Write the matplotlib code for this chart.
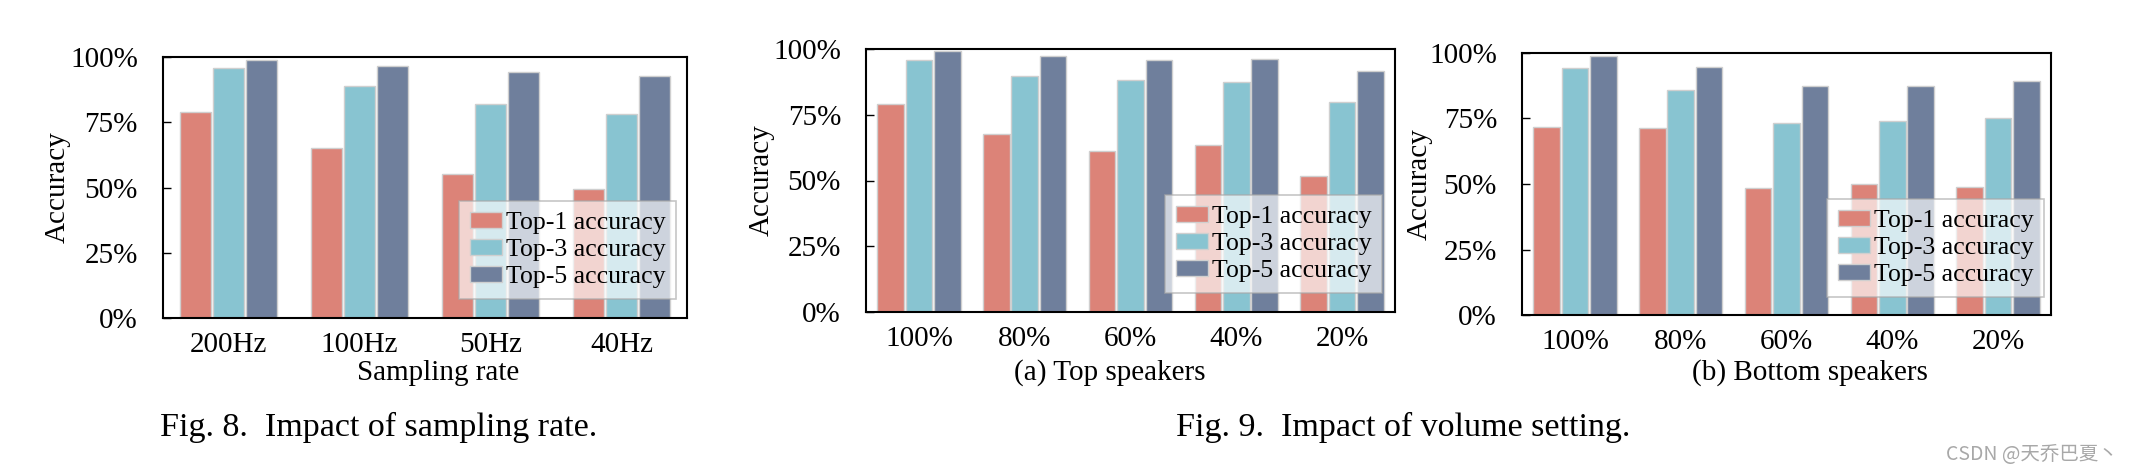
import numpy as np
import matplotlib
matplotlib.use("Agg")
import matplotlib.pyplot as plt

plt.rcParams['font.family'] = ['Liberation Serif', 'Noto Sans CJK SC', 'DejaVu Sans']

# ---------------- data ----------------
series_names = ["Top-1 accuracy", "Top-3 accuracy", "Top-5 accuracy"]
colors = ["#DC8378", "#88C4D1", "#6F7F9C"]

fig8_categories = ["200Hz", "100Hz", "50Hz", "40Hz"]
fig8_top1 = [0.790, 0.650, 0.550, 0.495]
fig8_top3 = [0.956, 0.888, 0.821, 0.782]
fig8_top5 = [0.990, 0.964, 0.944, 0.926]

fig9_categories = ["100%", "80%", "60%", "40%", "20%"]
fig9a_top1 = [0.791, 0.675, 0.613, 0.635, 0.518]
fig9a_top3 = [0.957, 0.897, 0.882, 0.874, 0.800]
fig9a_top5 = [0.992, 0.975, 0.959, 0.961, 0.916]

fig9b_top1 = [0.719, 0.714, 0.485, 0.500, 0.490]
fig9b_top3 = [0.944, 0.860, 0.732, 0.740, 0.751]
fig9b_top5 = [0.990, 0.948, 0.875, 0.875, 0.892]

ytick_values = [0, 0.25, 0.5, 0.75, 1.0]
ytick_labels = ["0%", "25%", "50%", "75%", "100%"]

# ---------------- figure ----------------
W, H = 2144, 476
fig = plt.figure(figsize=(W / 100, H / 100), dpi=100)

LABEL_FS = 21
LEGEND_FS = 18.5


def px_axes(left, right, top, bottom):
    return fig.add_axes([left / W, 1 - bottom / H, (right - left) / W, (bottom - top) / H])


def draw(ax, cats, s1, s2, s3, offset, width, xlabel, xlabel_x, xlabel_ypx,
         ylabel_xpx, leg_anchor):
    x = np.arange(len(cats))
    for i, (vals, c, name) in enumerate(zip([s1, s2, s3], colors, series_names)):
        ax.bar(x + (i - 1) * offset, vals, width=width, color=c,
               edgecolor="#CFCFCF", linewidth=1.0, label=name, zorder=2)
    ax.set_xlim(-0.5, len(cats) - 0.5)
    ax.set_ylim(0, 1.0)
    ax.set_xticks(x)
    ax.set_xticklabels(cats, fontsize=LABEL_FS)
    ax.set_yticks(ytick_values)
    ax.set_yticklabels(ytick_labels, fontsize=LABEL_FS)
    ax.tick_params(axis='x', length=0, pad=10)
    ax.tick_params(axis='y', direction='in', length=6, width=1.0, pad=18)
    for sp in ax.spines.values():
        sp.set_linewidth(1.5)
        sp.set_color("black")
    ax.set_ylabel("Accuracy", fontsize=LABEL_FS)
    ax.set_xlabel(xlabel, fontsize=LABEL_FS)
    bb = ax.get_position()
    ax_left_px = bb.x0 * W
    ax_w_px = bb.width * W
    ax_bottom_px = (1 - bb.y0) * H
    ax_h_px = bb.height * H
    ax.xaxis.set_label_coords((xlabel_x - ax_left_px) / ax_w_px,
                              (ax_bottom_px - xlabel_ypx) / ax_h_px)
    ax.xaxis.label.set_verticalalignment('center')
    ax.yaxis.set_label_coords((ylabel_xpx - ax_left_px) / ax_w_px, 0.5)
    ax.yaxis.label.set_verticalalignment('center')
    leg = ax.legend(loc="lower right", bbox_to_anchor=leg_anchor,
                    fontsize=LEGEND_FS, frameon=True, fancybox=False,
                    framealpha=0.66, edgecolor="#A8A8A8",
                    handlelength=1.25, handleheight=0.55, handletextpad=0.15,
                    labelspacing=0.2, borderpad=0.42, borderaxespad=0.0)
    leg.get_frame().set_linewidth(1.2)
    leg.set_zorder(5)
    return ax


# Fig. 8
ax1 = px_axes(163, 687, 57, 318)
draw(ax1, fig8_categories, fig8_top1, fig8_top3, fig8_top5,
     offset=0.25, width=0.237, xlabel="Sampling rate", xlabel_x=438,
     xlabel_ypx=373, ylabel_xpx=58,
     leg_anchor=((676 - 163) / (687 - 163), (318 - 299) / (318 - 57)))

# Fig. 9 (a)
ax2 = px_axes(866, 1395, 49, 312)
draw(ax2, fig9_categories, fig9a_top1, fig9a_top3, fig9a_top5,
     offset=0.268, width=0.252, xlabel="(a) Top speakers", xlabel_x=1110,
     xlabel_ypx=373, ylabel_xpx=762,
     leg_anchor=((1382 - 866) / (1395 - 866), (312 - 293) / (312 - 49)))

# Fig. 9 (b)
ax3 = px_axes(1522, 2051, 53, 315)
draw(ax3, fig9_categories, fig9b_top1, fig9b_top3, fig9b_top5,
     offset=0.268, width=0.252, xlabel="(b) Bottom speakers", xlabel_x=1810,
     xlabel_ypx=373, ylabel_xpx=1420,
     leg_anchor=((2044 - 1522) / (2051 - 1522), (315 - 297) / (315 - 53)))

# captions
fig.text(379 / W, 1 - 427 / H, "Fig. 8.  Impact of sampling rate.",
         ha="center", va="center", fontsize=24.5)
fig.text(1403 / W, 1 - 427 / H, "Fig. 9.  Impact of volume setting.",
         ha="center", va="center", fontsize=24.5)

# watermark
fig.text(2118 / W, 1 - 454 / H, "CSDN @天乔巴夏丶", ha="right", va="center",
         fontsize=14, color="#A8A8A8",
         family=["Noto Sans CJK SC", "DejaVu Sans"])

fig.savefig("out.png", dpi=100, facecolor="white")
